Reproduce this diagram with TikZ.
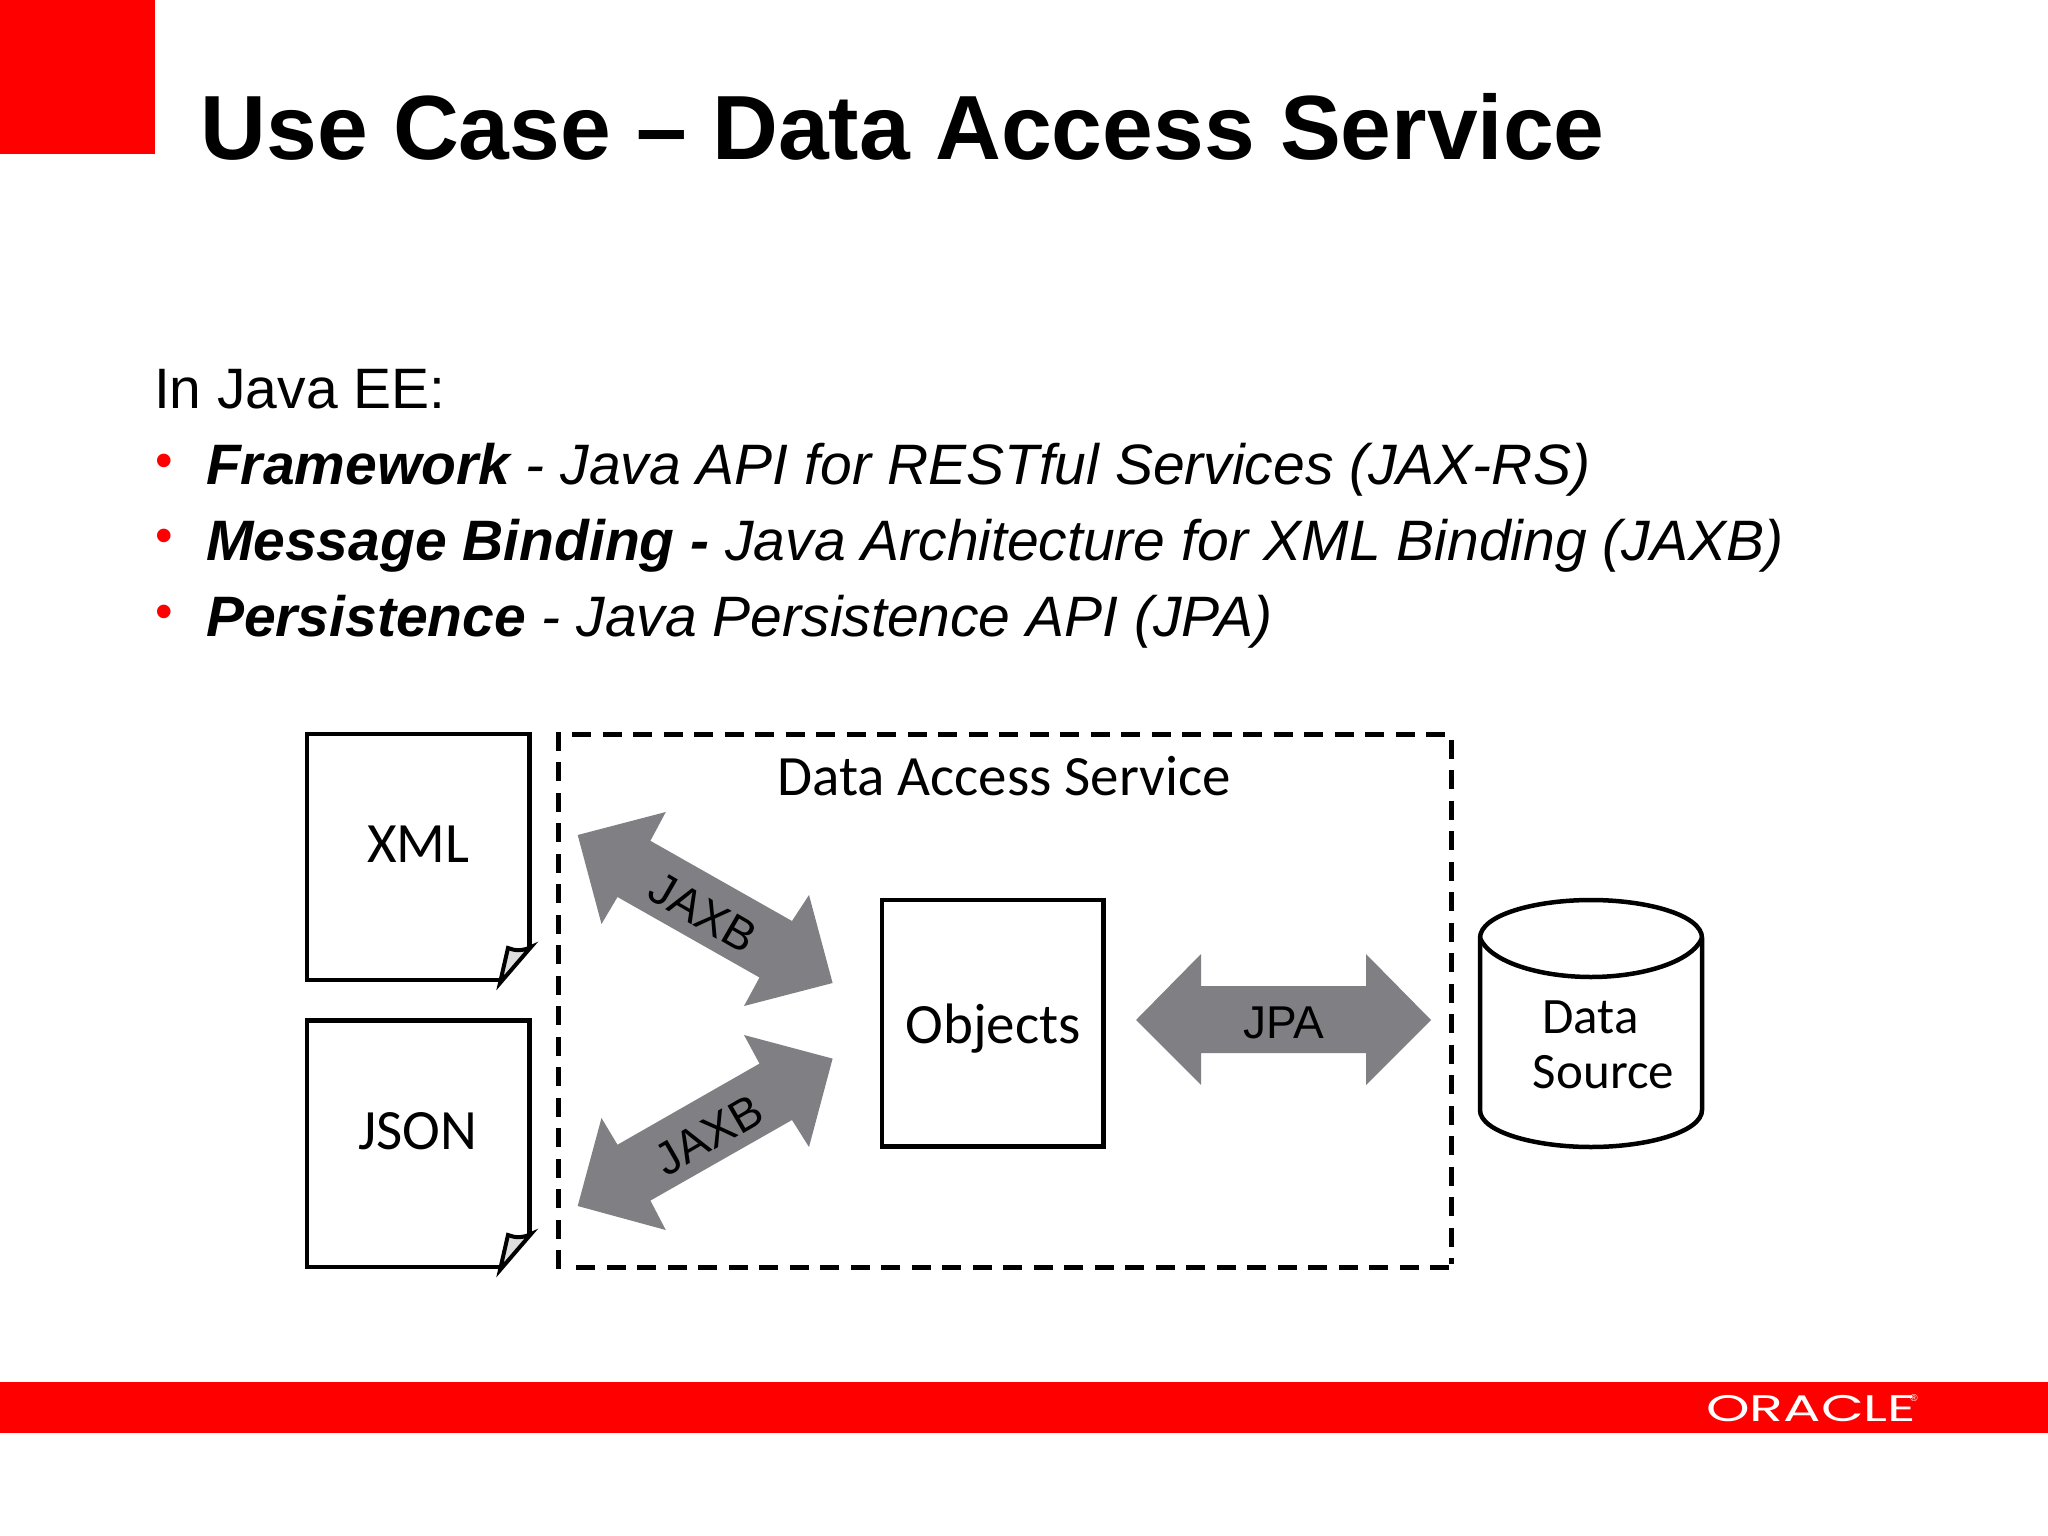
\documentclass[tikz,border=0pt]{standalone}
\usepackage{fontspec}
\setmainfont{Liberation Sans}
\newfontfamily\diagfont{Carlito}
\newfontfamily\logofont{Poppins}
\definecolor{orared}{RGB}{255,0,0}
\definecolor{arrowgray}{RGB}{128,127,131}
\definecolor{foldgray}{RGB}{222,222,222}
\tikzset{
  px/.style={x=1pt,y=-1pt},
  redfill/.style={fill=orared,draw=none},
  plaintext/.style={inner sep=0pt,outer sep=0pt,anchor=base west},
  titletext/.style={plaintext,font=\fontsize{91.2}{91.2}\selectfont\bfseries},
  bodytext/.style={plaintext,font=\fontsize{57}{57}\selectfont},
  bullettext/.style={plaintext,text=orared,font=\fontsize{50}{50}\selectfont},
  doc/.style={draw=black,line width=4.5pt,fill=white,line join=miter},
  fold/.style={draw=black,line width=4pt,fill=foldgray,line join=miter},
  dashbox/.style={draw=black,line width=5pt,dash pattern=on 19pt off 11.5pt},
  bluk/.style={fill=arrowgray,draw=none},
  difftext/.style={inner sep=0pt,font=\diagfont\fontsize{57}{57}\selectfont},
  dstext/.style={inner sep=0pt,font=\diagfont\fontsize{51}{51}\selectfont},
  arrowtext/.style={inner sep=0pt,font=\fontsize{46}{46}\selectfont},
}
\begin{document}
\begin{tikzpicture}[px]
\useasboundingbox (0,0) rectangle (2048,1536);
\fill[white] (0,0) rectangle (2048,1536);
\fill[redfill] (0,0) rectangle (155,154);
\fill[redfill] (0,1382) rectangle (2048,1433);
\node[titletext] (title) at (200.5,160) {Use Case -- Data Access Service};
\node[bodytext] (intro) at (154,408) {In Java EE:};
\node[bullettext] (b1) at (155,477) {•};
\node[bullettext] (b2) at (155,552) {•};
\node[bullettext] (b3) at (155,628) {•};
\node[bodytext] (l1) at (206,484.5) {\textit{\textbf{Framework} - Java API for RESTful Services (JAX-RS)}};
\node[bodytext] (l2) at (206,560) {\textit{\textbf{Message Binding -} Java Architecture for XML Binding (JAXB)}};
\node[bodytext] (l3) at (206,636) {\textit{\textbf{Persistence} - Java Persistence API (JPA)}};
% documents
\draw[doc] (503,980) -- (307,980) -- (307,734) -- (529.5,734) -- (529.5,949);
\draw[doc] (503,1267) -- (307,1267) -- (307,1020.5) -- (529.5,1020.5) -- (529.5,1235);
\draw[fold] (531,947) .. controls (523,951) and (515,951) .. (508,948) -- (500,983) -- cycle;
\draw[fold] (531,1234) .. controls (523,1238) and (515,1238) .. (508,1235) -- (500,1270) -- cycle;
\node[difftext] (xml) at (418.5,844) {XML};
\node[difftext] (json) at (417.5,1131) {JSON};
% service box
\draw[dashbox] (558,1269) -- (558,734) -- (1451,734) -- (1451,1264);
\draw[dashbox] (1449,1267) -- (572,1267);
\node[difftext] (das) at (1004,776) {Data Access Service};
% objects
\draw[doc] (882,900) rectangle (1103.5,1146.5);
\node[difftext] (obj) at (993,1029) {Objects};
% arrows
\fill[bluk] (577.7,835) -- (665.8,812) -- (650.4,840.8) -- (792,921) -- (809,895) -- (832.6,983) -- (744,1006) -- (759.5,977.5) -- (617.5,897) -- (601.5,924) -- cycle;
\fill[bluk] (577.7,1206) -- (665.8,1230) -- (650.4,1200.6) -- (792,1120) -- (809,1147) -- (832.6,1058.6) -- (744,1035) -- (759.5,1063.6) -- (617.5,1144.7) -- (601.5,1118) -- cycle;
\fill[bluk] (1136,1020) -- (1201,954) -- (1201,986) -- (1366,986) -- (1366,954) -- (1431,1020) -- (1366,1085) -- (1366,1053) -- (1201,1053) -- (1201,1085) -- cycle;
\node[arrowtext,rotate=-30] (jaxb1) at (703,913) {JAXB};
\node[arrowtext,rotate=30] (jaxb2) at (709,1135) {JAXB};
\node[arrowtext] (jpa) at (1284,1023) {JPA};
% cylinder
\draw[draw=black,line width=4.5pt,fill=white] (1480,938) .. controls (1480,915) and (1535,900) .. (1591,900) .. controls (1647,900) and (1702,915) .. (1702,938) -- (1702,1110) .. controls (1702,1132) and (1647,1147) .. (1591,1147) .. controls (1535,1147) and (1480,1132) .. (1480,1110) -- cycle;
\draw[draw=black,line width=4.5pt] (1480,938) .. controls (1490,962) and (1540,977) .. (1591,977) .. controls (1642,977) and (1692,962) .. (1702,938);
\node[dstext] (ds1) at (1590.5,1017) {Data};
\node[dstext] (ds2) at (1603.5,1072) {Source};
% logo
\node[inner sep=0pt,text=white,anchor=base west,font=\logofont\fontsize{37}{37}\selectfont,xscale=1.5] (logo) at (1706,1421) {ORACLE};
\node[inner sep=0pt,text=white,font=\fontsize{10}{10}\selectfont] (logor) at (1914,1398) {®};
\end{tikzpicture}
\end{document}
